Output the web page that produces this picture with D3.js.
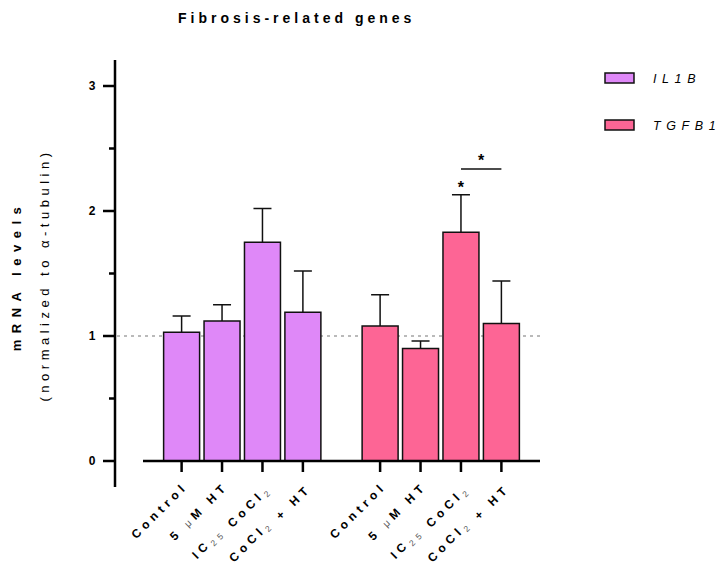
<!DOCTYPE html>
<html>
<head>
<meta charset="utf-8">
<script src="https://cdn.jsdelivr.net/npm/d3@7"></script>
<style>
  body { margin: 0; background: #fff; }
  text { font-family: "Liberation Sans", Arial, sans-serif; }
</style>
</head>
<body>
<div id="chart"></div>
<script>
// data
var genes = ["IL1B", "TGFB1"];
var treatments = ["Control", "5uM HT", "IC25 CoCl2", "CoCl2 + HT"];
var il1bMean = [1.03, 1.12, 1.75, 1.19];
var il1bErr  = [0.13, 0.13, 0.27, 0.33];
var tgfb1Mean = [1.08, 0.90, 1.83, 1.10];
var tgfb1Err  = [0.25, 0.06, 0.30, 0.34];
var colors = ["#df88f8", "#fd6595"];
var yTicks = [0, 1, 2, 3];
var yMinor = [0.5, 1.5, 2.5];

var rows = [];
genes.forEach(function (g, gi) {
    var m = gi === 0 ? il1bMean : tgfb1Mean;
    var e = gi === 0 ? il1bErr : tgfb1Err;
    treatments.forEach(function (t, ti) {
        rows.push({ gene: g, gi: gi, treat: t, mean: m[ti], err: e[ti] });
    });
});

var W = 723, H = 574;
var svg = d3.select("#chart").append("svg")
    .attr("width", W).attr("height", H);

var y = d3.scaleLinear().domain([0, 3]).range([461, 86]);
var xGene = d3.scaleBand().domain(genes).range([143, 540]).padding(0);
var xTreat = d3.scaleBand().domain(treatments)
    .range([0, xGene.bandwidth()]).paddingInner(0.11).paddingOuter(0.51);

function cx(d) { return xGene(d.gene) + xTreat(d.treat) + xTreat.bandwidth() / 2; }

// title
svg.append("text")
    .attr("x", 178).attr("y", 23)
    .style("font-size", "14px").style("font-weight", "bold")
    .style("letter-spacing", "4px")
    .text("Fibrosis-related genes");

// y axis (drawn by hand, prism style)
var ax = 115;
svg.append("line").attr("x1", ax).attr("x2", ax).attr("y1", 60).attr("y2", 487)
    .attr("stroke", "#000").attr("stroke-width", 2.5);
svg.selectAll(".ytick").data(yTicks).enter().append("line")
    .attr("x1", ax - 12).attr("x2", ax)
    .attr("y1", function (d) { return y(d); }).attr("y2", function (d) { return y(d); })
    .attr("stroke", "#000").attr("stroke-width", 2.5);
svg.selectAll(".yminor").data(yMinor).enter().append("line")
    .attr("x1", ax - 6).attr("x2", ax)
    .attr("y1", function (d) { return y(d); }).attr("y2", function (d) { return y(d); })
    .attr("stroke", "#000").attr("stroke-width", 2.5);
svg.selectAll(".ylab").data(yTicks).enter().append("text")
    .attr("x", 92).attr("y", function (d) { return y(d) + 4; })
    .attr("text-anchor", "middle")
    .style("font-size", "12px").style("font-weight", "bold")
    .text(function (d) { return d; });

// y titles
svg.append("text")
    .attr("transform", "translate(21,276) rotate(-90)")
    .attr("text-anchor", "middle")
    .style("font-size", "13px").style("font-weight", "bold")
    .style("letter-spacing", "6.5px")
    .text("mRNA levels");
svg.append("text")
    .attr("transform", "translate(49,275) rotate(-90)")
    .attr("text-anchor", "middle")
    .style("font-size", "13px")
    .style("letter-spacing", "4.5px")
    .text("(normalized to \u03b1-tubulin)");

// dotted reference line at 1
svg.append("line")
    .attr("x1", ax + 2).attr("x2", 540)
    .attr("y1", y(1)).attr("y2", y(1))
    .attr("stroke", "#777").attr("stroke-width", 1.2)
    .attr("stroke-dasharray", "3,4");

// bars
svg.selectAll(".bar").data(rows).enter().append("rect")
    .attr("x", function (d) { return cx(d) - xTreat.bandwidth() / 2; })
    .attr("y", function (d) { return y(d.mean); })
    .attr("width", xTreat.bandwidth())
    .attr("height", function (d) { return y(0) - y(d.mean); })
    .attr("fill", function (d) { return colors[d.gi]; })
    .attr("stroke", "#111").attr("stroke-width", 1.5);

// error bars
svg.selectAll(".err").data(rows).enter().append("line")
    .attr("x1", cx).attr("x2", cx)
    .attr("y1", function (d) { return y(d.mean); })
    .attr("y2", function (d) { return y(d.mean + d.err); })
    .attr("stroke", "#111").attr("stroke-width", 1.5);
svg.selectAll(".cap").data(rows).enter().append("line")
    .attr("x1", function (d) { return cx(d) - 9; })
    .attr("x2", function (d) { return cx(d) + 9; })
    .attr("y1", function (d) { return y(d.mean + d.err); })
    .attr("y2", function (d) { return y(d.mean + d.err); })
    .attr("stroke", "#111").attr("stroke-width", 1.5);

// x baseline and ticks
svg.append("line").attr("x1", 143).attr("x2", 540)
    .attr("y1", y(0)).attr("y2", y(0))
    .attr("stroke", "#000").attr("stroke-width", 2.5);
svg.selectAll(".xtick").data(rows).enter().append("line")
    .attr("x1", cx).attr("x2", cx)
    .attr("y1", y(0)).attr("y2", y(0) + 11)
    .attr("stroke", "#000").attr("stroke-width", 2.5);

// x labels, rotated
var xl = svg.selectAll(".xlab").data(rows).enter().append("text")
    .attr("transform", function (d) { return "translate(" + (cx(d) + 7) + ",487) rotate(-45)"; })
    .attr("text-anchor", "end")
    .style("font-size", "12px").style("font-weight", "bold")
    .style("letter-spacing", "4.5px");
xl.each(function (d) {
    var t = d3.select(this);
    function sub(s, back) {
        t.append("tspan").attr("dy", 3).style("font-size", "8.5px")
            .style("font-weight", "normal").attr("fill", "#555").text(s);
        if (back) t.append("tspan").attr("dy", -3).text("");
    }
    if (d.treat === "Control") {
        t.append("tspan").text("Control");
    } else if (d.treat === "5uM HT") {
        t.append("tspan").text("5 ");
        t.append("tspan").style("font-weight", "normal").style("font-size", "10px")
            .attr("fill", "#555").text("\u03bc");
        t.append("tspan").text("M HT");
    } else if (d.treat === "IC25 CoCl2") {
        t.append("tspan").text("IC");
        sub("25", true);
        t.append("tspan").text(" CoCl");
        sub("2", false);
    } else {
        t.append("tspan").text("CoCl");
        sub("2", true);
        t.append("tspan").text(" + HT");
    }
});

// significance marks on TGFB1 IC25 CoCl2
var sig = rows[6], sig2 = rows[7];
svg.append("text")
    .attr("x", cx(sig)).attr("y", y(sig.mean + sig.err) - 2)
    .attr("text-anchor", "middle")
    .style("font-size", "16px").style("font-weight", "bold")
    .text("*");
svg.append("line")
    .attr("x1", cx(sig)).attr("x2", cx(sig2))
    .attr("y1", 169).attr("y2", 169)
    .attr("stroke", "#111").attr("stroke-width", 1.5);
svg.append("text")
    .attr("x", (cx(sig) + cx(sig2)) / 2).attr("y", 166)
    .attr("text-anchor", "middle")
    .style("font-size", "16px").style("font-weight", "bold")
    .text("*");

// legend
var lg = svg.selectAll(".leg").data(genes).enter().append("g")
    .attr("transform", function (d, i) { return "translate(605," + (73 + i * 47) + ")"; });
lg.append("rect").attr("width", 29).attr("height", 10)
    .attr("fill", function (d, i) { return colors[i]; })
    .attr("stroke", "#111").attr("stroke-width", 1.5);
lg.append("text").attr("x", 48).attr("y", 10)
    .style("font-size", "12.5px").style("font-style", "italic")
    .style("letter-spacing", "5.6px")
    .text(function (d) { return d; });
</script>
</body>
</html>
